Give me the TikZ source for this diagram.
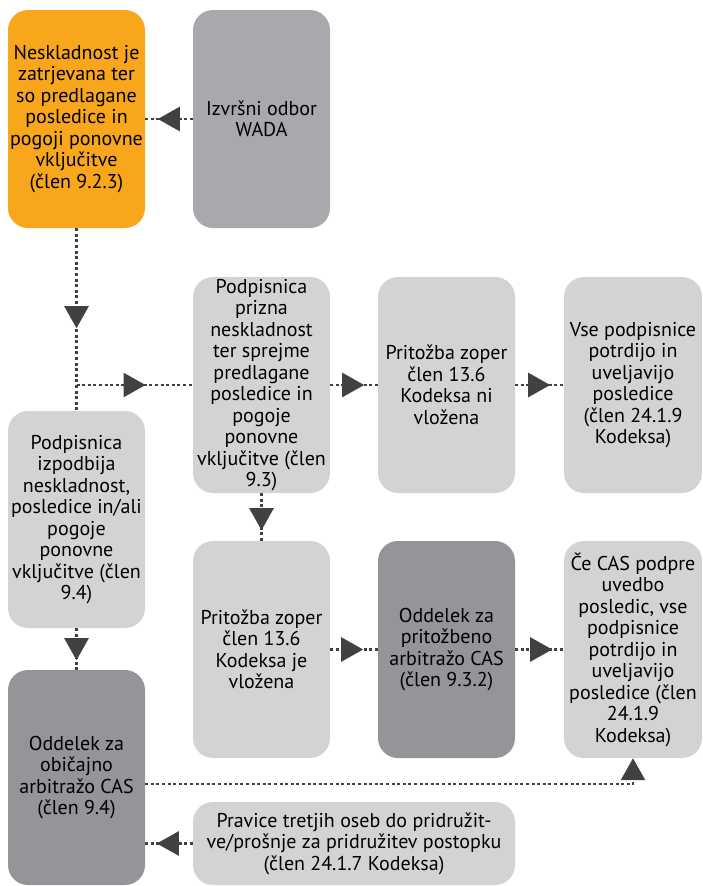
\documentclass[tikz,border=0pt]{standalone}
\usepackage{fontspec}
\setmainfont{PT Sans}
\usetikzlibrary{arrows.meta,decorations.markings}
\definecolor{wadaorange}{HTML}{F8A71C}
\definecolor{wadagray}{HTML}{A7A9AC}
\definecolor{boxlight}{HTML}{D1D3D4}
\definecolor{boxdark}{HTML}{939598}
\definecolor{linkgray}{HTML}{414042}

\begin{document}
\begin{tikzpicture}[
    x=1pt, y=-1pt,
    box/.style={rounded corners=20pt, minimum width=137pt, minimum height=217pt, inner sep=1pt,
        align=center, font=\fontsize{20}{21.5}\selectfont},
    orangebox/.style={box, fill=wadaorange},
    graybox/.style={box, fill=wadagray},
    lightbox/.style={box, fill=boxlight},
    darkbox/.style={box, fill=boxdark},
    link/.style={draw=linkgray, color=linkgray, line width=2.6pt, dash pattern=on 3pt off 2.6pt},
    tipat/.style={postaction={decorate}, decoration={markings,
        mark=at position #1 with {\arrow{Triangle[length=22pt,width=24pt]}}}}
]
\useasboundingbox (0,0) rectangle (702,886);
\node[orangebox, minimum height=218pt] (orange) at (76.5,119)
    {Neskladnost je\\zatrjevana ter\\so predlagane\\posledice in\\pogoji ponovne\\vključitve\\(člen 9.2.3)};
\node[graybox, minimum height=218pt] (wada) at (261.5,119) {Izvršni odbor\\WADA};
\node[lightbox, minimum height=216pt] (prizna) at (261.5,385)
    {Podpisnica\\prizna\\neskladnost\\ter sprejme\\predlagane\\posledice in\\pogoje\\ponovne\\vključitve (člen\\9.3)};
\node[lightbox, minimum height=216pt] (ni) at (446.5,385) {Pritožba zoper\\člen 13.6\\Kodeksa ni\\vložena};
\node[lightbox, minimum height=216pt, minimum width=138pt] (vse) at (633,385)
    {Vse podpisnice\\potrdijo in\\uveljavijo\\posledice\\(člen 24.1.9\\Kodeksa)};
\node[lightbox] (izpodbija) at (76.5,519.5)
    {Podpisnica\\izpodbija\\neskladnost,\\posledice in/ali\\pogoje\\ponovne\\vključitve (člen\\9.4)};
\node[lightbox] (je) at (261.5,649.5) {Pritožba zoper\\člen 13.6\\Kodeksa je\\vložena};
\node[darkbox] (pritozbeno) at (446.5,649.5) {Oddelek za\\pritožbeno\\arbitražo CAS\\(člen 9.3.2)};
\node[lightbox, minimum width=138pt] (ce) at (633,649.5)
    {Če CAS podpre\\uvedbo\\posledic, vse\\podpisnice\\potrdijo in\\uveljavijo\\posledice (člen\\24.1.9\\Kodeksa)};
\node[darkbox, minimum height=215pt] (obicajno) at (76.5,777.5) {Oddelek za\\običajno\\arbitražo CAS\\(člen 9.4)};
\node[lightbox, minimum width=322pt, minimum height=83pt] (pravice) at (354,843.5)
    {Pravice tretjih oseb do pridružit-\\ve/prošnje za pridružitev postopku\\(člen 24.1.7 Kodeksa)};
\coordinate (split) at (orange.south |- prizna.west);
\draw[link, tipat=35pt] (wada.west) -- (orange.east);
\draw[link, tipat=100pt] (orange.south) -- (izpodbija.north);
\draw[link, tipat=69pt] (split) -- (prizna.west);
\draw[link, tipat=34pt] (prizna.east) -- (ni.west);
\draw[link, tipat=35pt] (ni.east) -- (vse.west);
\draw[link, tipat=37pt] (prizna.south) -- (je.north);
\draw[link, tipat=32pt] (izpodbija.south) -- (obicajno.north);
\draw[link, tipat=33pt] (je.east) -- (pritozbeno.west);
\draw[link, tipat=37pt] (pritozbeno.east) -- (ce.west);
\draw[link, -{Triangle[length=22pt,width=24pt]}] ([yshift=-6.5pt]obicajno.east) -| (ce.south);
\draw[link, tipat=36pt] (pravice.west) -- (pravice.west -| obicajno.east);
\end{tikzpicture}
\end{document}
